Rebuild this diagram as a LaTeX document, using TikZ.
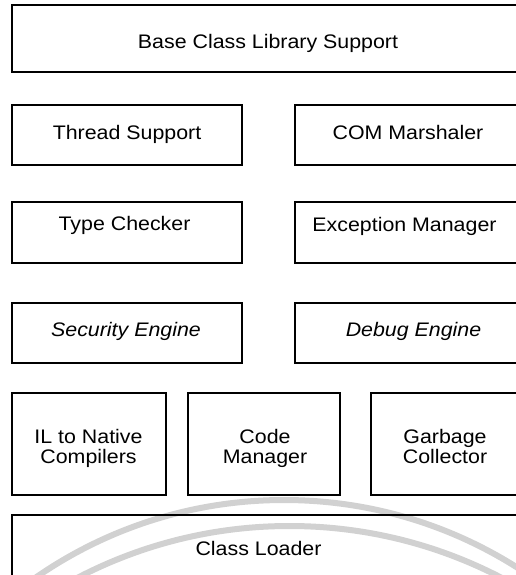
\documentclass[tikz,border=0pt]{standalone}
\usepackage{fontspec}
\setmainfont{Liberation Sans}[FakeStretch=1.09]
\begin{document}
\begin{tikzpicture}[x=1pt,y=-1pt,
  box/.style={draw=black, line width=1.6pt, inner sep=0pt, outer sep=0pt},
  lbl/.style={inner sep=0pt, outer sep=0pt, align=center,
              font=\fontsize{19.6}{20}\selectfont},
  ital/.style={lbl, font=\fontsize{19.6}{20}\selectfont\itshape},
  wm/.style={draw=black!18, line width=6pt}]
% page frame
\clip (0,0) rectangle (516,575);
\fill[white] (0,0) rectangle (516,575);

% faint background arcs
\draw[wm] (284,936) circle[radius=436pt];
\draw[wm] (289.5,985) circle[radius=459pt];

% layer boxes
\node[box, minimum width=506pt, minimum height=67pt] (bcl) at (265,38.5) {};
\node[box, minimum width=230pt, minimum height=60pt] (thr) at (127,135) {};
\node[box, minimum width=223pt, minimum height=60pt] (com) at (406.5,135) {};
\node[box, minimum width=230pt, minimum height=61pt] (typ) at (127,232.5) {};
\node[box, minimum width=223pt, minimum height=61pt] (exc) at (406.5,232.5) {};
\node[box, minimum width=230pt, minimum height=60pt] (sec) at (127,333) {};
\node[box, minimum width=223pt, minimum height=60pt] (dbg) at (406.5,333) {};
\node[box, minimum width=154pt, minimum height=102pt] (ilc) at (89,444) {};
\node[box, minimum width=152pt, minimum height=102pt] (cdm) at (264,444) {};
\node[box, minimum width=147pt, minimum height=102pt] (gbc) at (444.5,444) {};
\node[box, minimum width=506pt, minimum height=85pt] (cld) at (265,557.5) {};

% captions
\node[lbl, anchor=base] (bcl-t) at (268,48.3) {Base Class Library Support};
\node[lbl, anchor=base] (thr-t) at (127,139.3) {Thread Support};
\node[lbl, anchor=base] (com-t) at (408,139.3) {COM Marshaler};
\node[lbl, anchor=base] (typ-t) at (124.5,230.7) {Type Checker};
\node[lbl, anchor=base] (exc-t) at (404.5,231.5) {Exception Manager};
\node[ital, anchor=base] (sec-t) at (126,336.7) {Security Engine};
\node[ital, anchor=base] (dbg-t) at (413.5,336.7) {Debug Engine};
\node[lbl, anchor=north] (ilc-t) at (88.5,429.5) {IL to Native\\Compilers};
\node[lbl, anchor=north] (cdm-t) at (265,429.5) {Code\\Manager};
\node[lbl, anchor=north] (gbc-t) at (445,429.5) {Garbage\\Collector};
\node[lbl, anchor=base] (cld-t) at (258.5,555) {Class Loader};
\end{tikzpicture}
\end{document}
